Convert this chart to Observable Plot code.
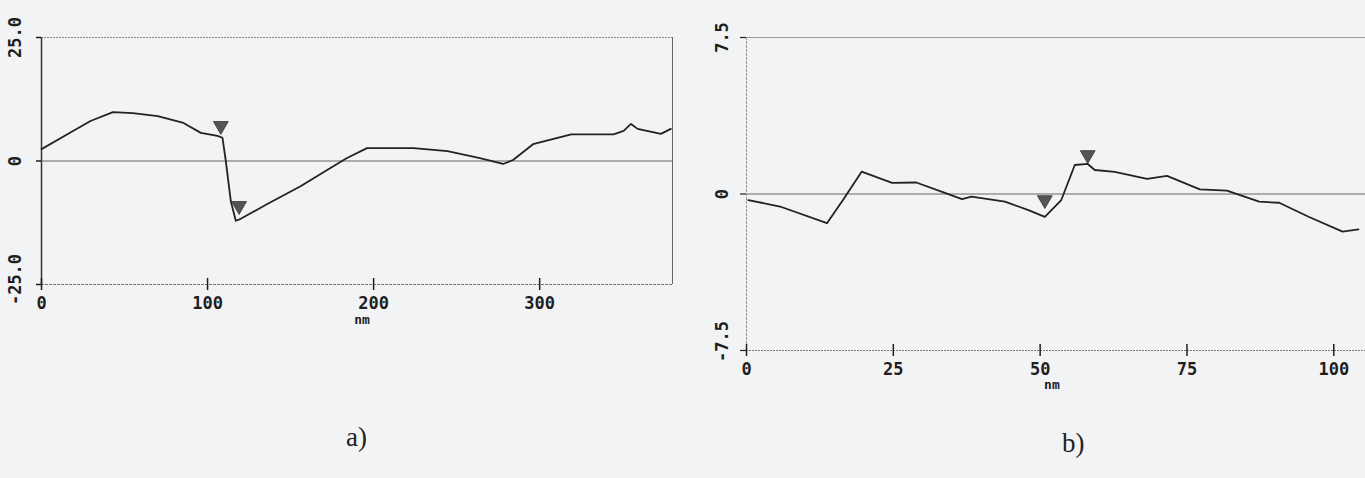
<!DOCTYPE html>
<html><head><meta charset="utf-8">
<script src="https://cdn.jsdelivr.net/npm/d3@7"></script>
<script src="https://cdn.jsdelivr.net/npm/@observablehq/plot@0.6"></script>
<style>
body{margin:0;background:#f2f3f5;width:1365px;height:478px;overflow:hidden;position:relative;}
.panel{position:absolute;top:0;}
.cap{position:absolute;font-family:"Liberation Serif",serif;font-size:27px;color:#222;}
</style></head><body>
<div id="a" class="panel" style="left:0"></div>
<div id="b" class="panel" style="left:705px"></div>
<div class="cap" style="left:346px;top:422px">a)</div>
<div class="cap" style="left:1062px;top:428px">b)</div>
<script>
// Profile a)
const distA   = [0, 15.6, 29.5, 43, 55, 70, 85.5, 96, 106, 109, 111, 114, 117, 120, 136, 156, 174, 184, 196, 224, 244.5, 264, 278, 284, 296, 319, 344.5, 350.6, 355, 359, 373, 379];
const heightA = [2.4, 5.4, 8.1, 9.9, 9.7, 9.1, 7.7, 5.7, 5.1, 4.7, 0, -8.1, -12.1, -11.7, -8.7, -5.1, -1.4, 0.6, 2.6, 2.6, 2.0, 0.6, -0.6, 0.2, 3.4, 5.4, 5.4, 6.1, 7.5, 6.5, 5.5, 6.5];
const markerDistA   = [108, 119];
const markerHeightA = [5.5, -10.7];
const xTicksA = [0, 100, 200, 300];
const yTicksA = [-25, 0, 25];
const yLabelsA = ["-25.0", "0", "25.0"];

// Profile b)
const distB   = [0.3, 5.7, 13.7, 16.4, 19.6, 24.8, 28.9, 33.9, 36.7, 38.3, 44, 48, 50.8, 53.6, 55.9, 58.1, 59.3, 62.7, 68.2, 71.6, 77.2, 81.8, 87.3, 90.7, 95.8, 101.5, 104.2];
const heightB = [-0.29, -0.6, -1.4, -0.3, 1.07, 0.53, 0.55, 0.04, -0.25, -0.13, -0.37, -0.77, -1.1, -0.29, 1.39, 1.44, 1.15, 1.06, 0.72, 0.87, 0.22, 0.16, -0.37, -0.42, -1.1, -1.8, -1.7];
const markerDistB   = [50.8, 58.1];
const markerHeightB = [-0.67, 1.49];
const xTicksB = [0, 25, 50, 75, 100];
const yTicksB = [-7.5, 0, 7.5];
const yLabelsB = ["-7.5", "0", "7.5"];

const unitLabel = "nm";

const profA = distA.map((d, i) => ({x: d, y: heightA[i]}));
const markA = markerDistA.map((d, i) => ({x: d, y: markerHeightA[i]}));
const profB = distB.map((d, i) => ({x: d, y: heightB[i]}));
const markB = markerDistB.map((d, i) => ({x: d, y: markerHeightB[i]}));
const ylabA = yTicksA.map((v, i) => ({y: v, t: yLabelsA[i]}));
const ylabB = yTicksB.map((v, i) => ({y: v, t: yLabelsB[i]}));

const style = {fontFamily: "DejaVu Sans Mono", fontWeight: "bold", fontSize: "17px", color: "#1e1e1e", background: "transparent", overflow: "visible"};

const ylabelOpts = (dx, dy) => ({y: "y", text: "t", frameAnchor: "left", dx, dy, rotate: -90, textAnchor: "middle", lineAnchor: "middle", fill: "#1e1e1e"});

const chartA = Plot.plot({
  width: 690, height: 340,
  marginLeft: 41, marginRight: 18, marginTop: 37, marginBottom: 56,
  style,
  x: {domain: [0, 380], label: null},
  y: {domain: [-25, 25], label: null},
  marks: [
    Plot.ruleY([25], {stroke: "#888", strokeDasharray: "2,1", strokeWidth: 1}),
    Plot.ruleY([-25], {stroke: "#777", strokeDasharray: "3,1", strokeWidth: 1}),
    Plot.ruleY([0], {stroke: "#666", strokeWidth: 1}),
    Plot.ruleX([380], {stroke: "#666", strokeWidth: 1}),
    Plot.ruleX([0], {stroke: "#333", strokeWidth: 1.5}),
    Plot.axisX({ticks: xTicksA, tickSize: 6, tickPadding: 6, tickFormat: d => String(d), label: null, strokeWidth: 1.5}),
    Plot.axisX({ticks: xTicksA, tickSize: -6, text: null, label: null, strokeWidth: 1.5}),
    Plot.axisY({ticks: yTicksA, tickSize: 5, text: null, label: null, strokeWidth: 1.5}),
    Plot.text(ylabA.filter(d => d.y >= 0), ylabelOpts(-26, 0)),
    Plot.text(ylabA.filter(d => d.y < 0), ylabelOpts(-26, -5)),
    Plot.text([unitLabel], {x: 193, text: d => d, frameAnchor: "bottom", dy: 39, fontSize: 13, fill: "#1e1e1e"}),
    Plot.line(profA, {x: "x", y: "y", stroke: "#222", strokeWidth: 1.8}),
    Plot.dot(markA, {x: "x", y: "y", symbol: "triangle", rotate: 180, r: 5.5, dy: -8, fill: "#555", stroke: "#333", strokeWidth: 0.8})
  ]
});
document.getElementById("a").append(chartA);

const chartB = Plot.plot({
  width: 660, height: 410,
  marginLeft: 41, marginRight: 0, marginTop: 37, marginBottom: 60,
  style,
  x: {domain: [0, 105.4], label: null},
  y: {domain: [-7.5, 7.5], label: null},
  marks: [
    Plot.ruleY([7.5], {stroke: "#999", strokeWidth: 1}),
    Plot.ruleY([-7.5], {stroke: "#777", strokeDasharray: "2,1", strokeWidth: 1}),
    Plot.ruleY([0], {stroke: "#666", strokeWidth: 1}),
    Plot.ruleX([0], {stroke: "#999", strokeWidth: 1, strokeDasharray: "3,1"}),
    Plot.axisX({ticks: xTicksB, tickSize: 6, tickPadding: 6, tickFormat: d => String(d), label: null, strokeWidth: 1.5}),
    Plot.axisX({ticks: xTicksB, tickSize: -6, text: null, label: null, strokeWidth: 1.5}),
    Plot.axisY({ticks: yTicksB, tickSize: 6, text: null, label: null, strokeWidth: 1.2}),
    Plot.text(ylabB.filter(d => d.y >= 0), ylabelOpts(-24, 0)),
    Plot.text(ylabB.filter(d => d.y < 0), ylabelOpts(-24, -9)),
    Plot.text([unitLabel], {x: 52, text: d => d, frameAnchor: "bottom", dy: 38, fontSize: 13, fill: "#1e1e1e"}),
    Plot.line(profB, {x: "x", y: "y", stroke: "#222", strokeWidth: 1.8}),
    Plot.dot(markB, {x: "x", y: "y", symbol: "triangle", rotate: 180, r: 5.5, dy: -8, fill: "#555", stroke: "#333", strokeWidth: 0.8})
  ]
});
document.getElementById("b").append(chartB);
</script>
</body></html>
